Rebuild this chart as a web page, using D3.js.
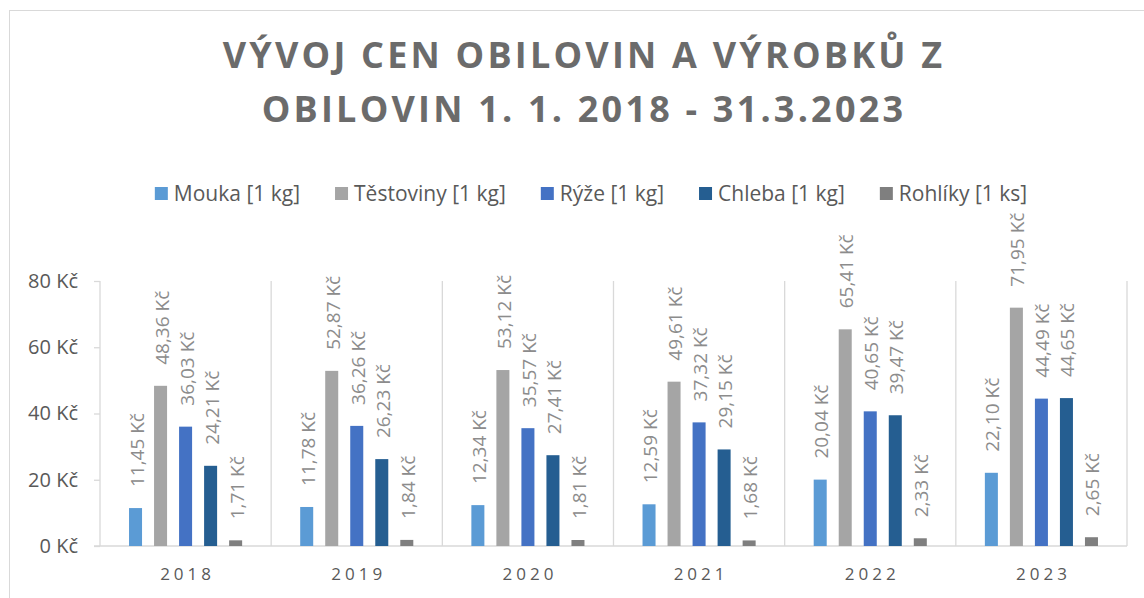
<!DOCTYPE html>
<html>
<head>
<meta charset="utf-8">
<script src="https://cdn.jsdelivr.net/npm/d3@7"></script>
<style>
  body { margin: 0; background: #fff; }
  svg { display: block; font-family: "Open Sans", sans-serif; }
</style>
</head>
<body>
<svg id="chart" width="1144" height="598"></svg>
<script>
// data
const years = ["2018", "2019", "2020", "2021", "2022", "2023"];
const series = ["Mouka [1 kg]", "Těstoviny [1 kg]", "Rýže [1 kg]", "Chleba [1 kg]", "Rohlíky [1 ks]"];
const mouka = [11.45, 11.78, 12.34, 12.59, 20.04, 22.10];
const testoviny = [48.36, 52.87, 53.12, 49.61, 65.41, 71.95];
const ryze = [36.03, 36.26, 35.57, 37.32, 40.65, 44.49];
const chleba = [24.21, 26.23, 27.41, 29.15, 39.47, 44.65];
const rohliky = [1.71, 1.84, 1.81, 1.68, 2.33, 2.65];
const yTicks = [0, 20, 40, 60, 80];
const colors = ["#5B9BD5", "#A5A5A5", "#4472C4", "#255E91", "#7F7F7F"];

const values = [mouka, testoviny, ryze, chleba, rohliky];
const rows = [];
years.forEach((yr, i) => {
    series.forEach((s, j) => rows.push({ year: yr, series: s, value: values[j][i], color: colors[j] }));
});

const svg = d3.select("#chart");

// chart border
svg.append("rect")
    .attr("x", 9.5).attr("y", 10.5)
    .attr("width", 1145).attr("height", 600)
    .attr("fill", "#fff")
    .attr("stroke", "#d9d9d9");

// title
const title = svg.append("text")
    .attr("text-anchor", "middle")
    .attr("fill", "#6b6b6b")
    .style("font-size", "36px")
    .style("font-weight", "bold")
    .style("letter-spacing", "3.2px");
title.append("tspan").attr("x", 584).attr("y", 68).text("VÝVOJ CEN OBILOVIN A VÝROBKŮ Z");
title.append("tspan").attr("x", 584).attr("y", 122).text("OBILOVIN 1. 1. 2018 - 31.3.2023");

// scales
const x0 = d3.scaleBand().domain(years).range([100, 1127]).padding(0);
const x1 = d3.scaleBand().domain(series).range([0, x0.bandwidth()]).paddingInner(0.48).paddingOuter(1.16);
const y = d3.scaleLinear().domain([0, 80]).range([546, 281]);

// category separators
svg.append("g").selectAll("line")
    .data(years.concat(["end"]))
    .join("line")
    .attr("x1", d => d === "end" ? x0.range()[1] : x0(d))
    .attr("x2", d => d === "end" ? x0.range()[1] : x0(d))
    .attr("y1", y(80)).attr("y2", y(0))
    .attr("stroke", "#d9d9d9").attr("stroke-width", 1.3);

// y axis
const yAxis = svg.append("g")
    .attr("transform", `translate(${x0.range()[0]},0)`)
    .call(d3.axisLeft(y).tickValues(yTicks).tickSize(6).tickPadding(16).tickFormat(d => d + " Kč"));
yAxis.select(".domain").remove();
yAxis.selectAll("line").attr("stroke", "#d9d9d9").attr("stroke-width", 1.3);
yAxis.selectAll("text").attr("fill", "#595959").style("font-size", "20px").attr("font-family", "Open Sans");

// baseline
svg.append("line")
    .attr("x1", x0.range()[0] - 6).attr("x2", x0.range()[1])
    .attr("y1", y(0)).attr("y2", y(0))
    .attr("stroke", "#d9d9d9").attr("stroke-width", 1.3);

// x labels
svg.append("g").selectAll("text")
    .data(years)
    .join("text")
    .attr("x", d => x0(d) + x0.bandwidth() / 2 + 2)
    .attr("y", 580)
    .attr("text-anchor", "middle")
    .attr("fill", "#595959")
    .style("font-size", "17px")
    .style("letter-spacing", "4px")
    .text(d => d);

// bars
svg.append("g").selectAll("rect")
    .data(rows)
    .join("rect")
    .attr("x", d => x0(d.year) + x1(d.series))
    .attr("y", d => y(d.value))
    .attr("width", x1.bandwidth())
    .attr("height", d => y(0) - y(d.value))
    .attr("fill", d => d.color);

// data labels
const fmt = v => v.toFixed(2).replace(".", ",") + " Kč";
svg.append("g").selectAll("text")
    .data(rows)
    .join("text")
    .attr("transform", d => `translate(${x0(d.year) + x1(d.series) + x1.bandwidth() / 2 + 1},${y(d.value) - 21}) rotate(-90)`)
    .attr("dominant-baseline", "central")
    .attr("fill", "#8c8c8c")
    .style("font-size", "19px")
    .text(d => fmt(d.value));

// legend
const legend = svg.append("g");
let lx = 0;
series.forEach((s, j) => {
    const g = legend.append("g");
    g.append("rect").attr("x", lx).attr("y", -6).attr("width", 13).attr("height", 13).attr("fill", colors[j]);
    const t = g.append("text")
        .attr("x", lx + 19).attr("y", 0)
        .attr("dominant-baseline", "central")
        .attr("fill", "#595959")
        .style("font-size", "21px")
        .text(s);
    lx += 19 + t.node().getComputedTextLength() + 35;
});
const legendWidth = lx - 35;
legend.attr("transform", `translate(${591 - legendWidth / 2},193)`);
</script>
</body>
</html>
